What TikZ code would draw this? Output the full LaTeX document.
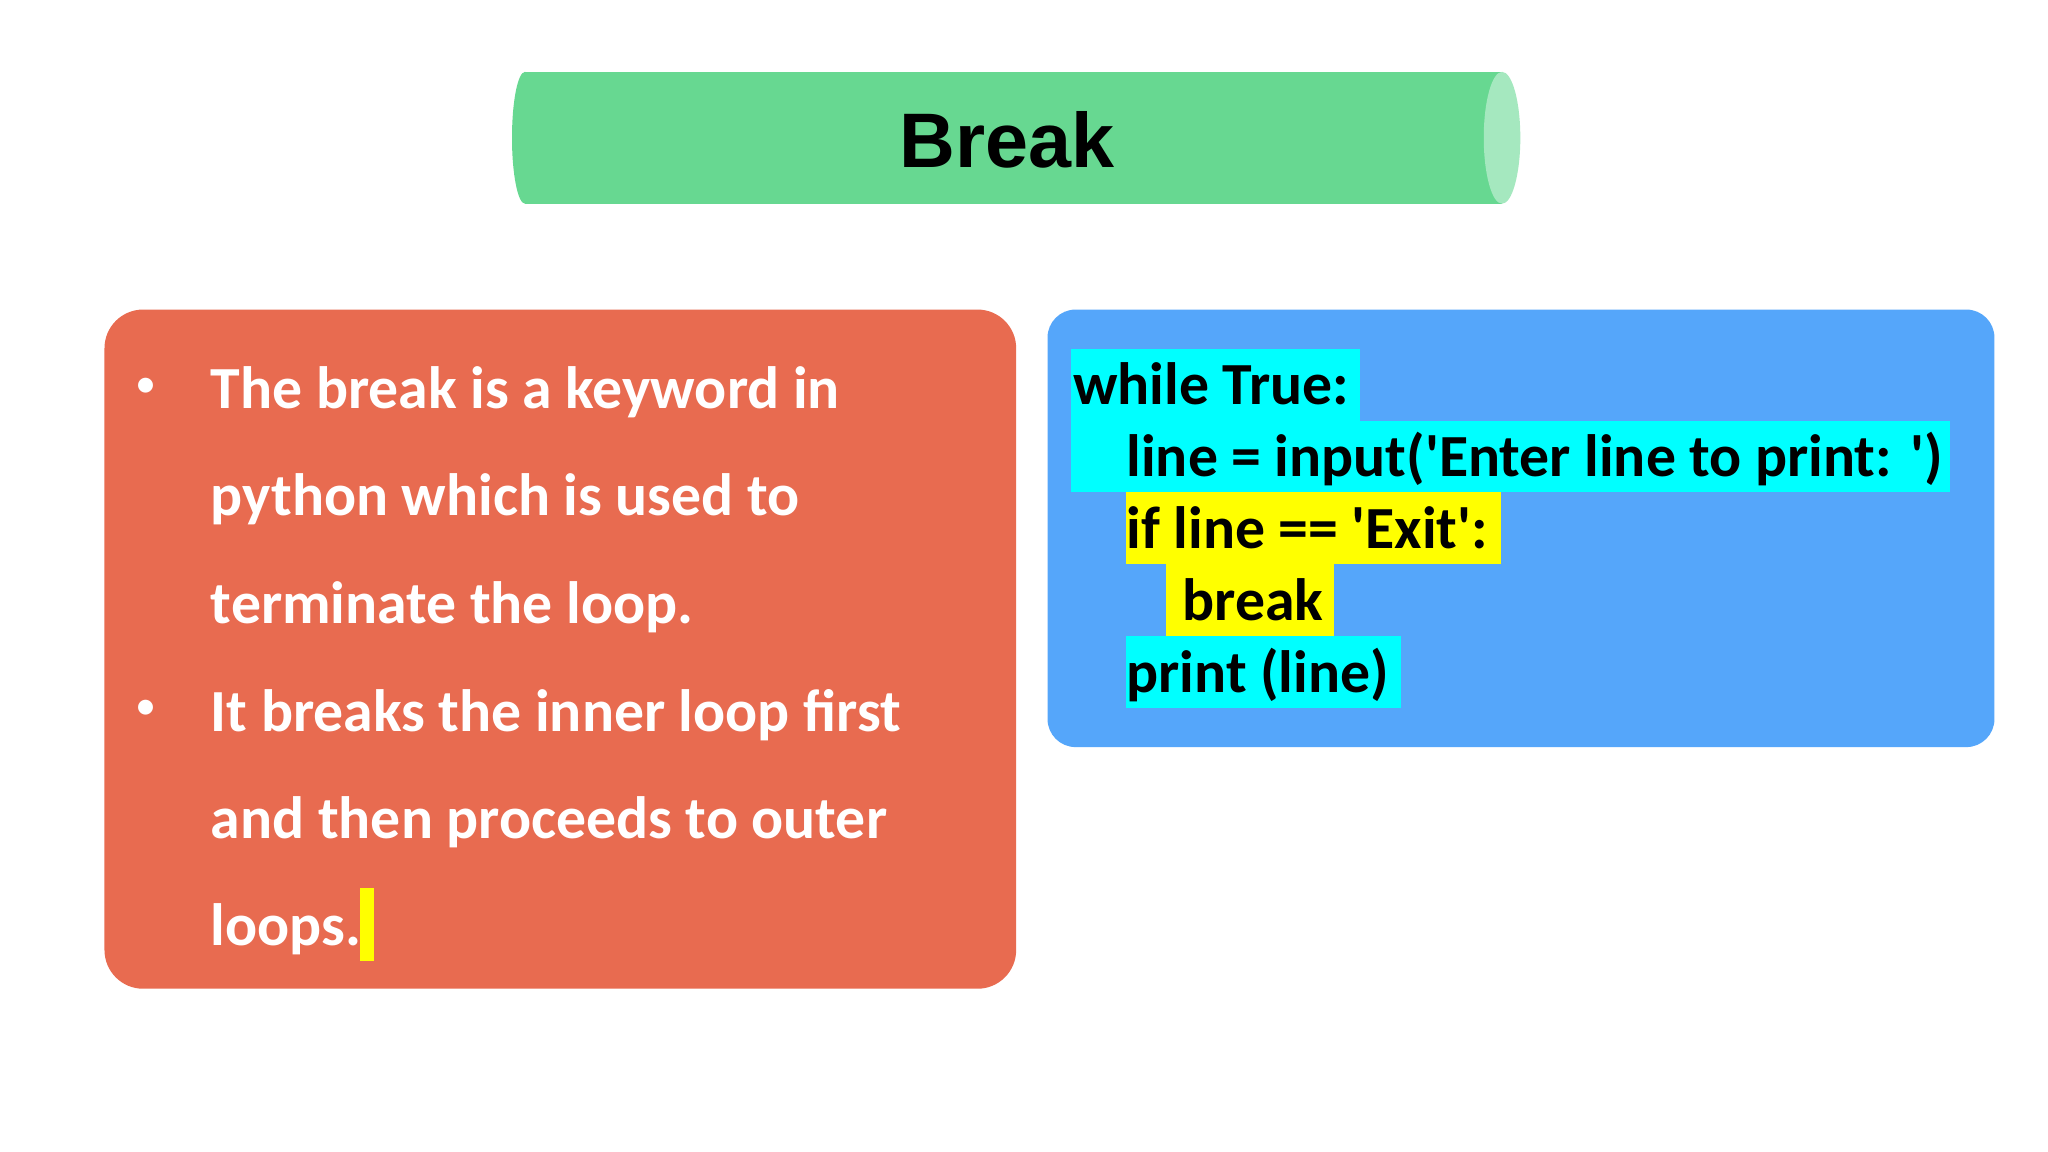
\documentclass[tikz,border=0pt]{standalone}
\usepackage{fontspec}
\setmainfont{Carlito}
\newfontfamily\codefont{Carlito}
\newfontfamily\titlefont{Liberation Sans}
\definecolor{cgreen}{HTML}{67D891}
\definecolor{clight}{HTML}{A5E8BF}
\definecolor{cred}{HTML}{E86B50}
\definecolor{cblue}{HTML}{55A6FA}
\definecolor{ccyan}{HTML}{00FFFF}
\definecolor{cyel}{HTML}{FFFF00}
\tikzset{
 bodytxt/.style={anchor=base west,inner sep=0pt,text=white,font=\fontsize{17}{20}\selectfont\bfseries},
 bullettxt/.style={anchor=base west,inner sep=0pt,text=white,font=\fontsize{12}{14}\selectfont},
 codetxt/.style={anchor=base west,inner sep=0pt,text=black,font=\codefont\fontsize{17}{20}\selectfont\bfseries}
}
\begin{document}
\begin{tikzpicture}[x=0.01306cm,y=-0.01306cm]
\useasboundingbox[fill=white] (0,0) rectangle (1568,882);
% cylinder
\fill[cgreen] (402,105.5) ellipse[x radius=10,y radius=50.5];
\fill[cgreen] (402,55) rectangle (1150,156);
\fill[clight] (1150,105.5) ellipse[x radius=14,y radius=50.5];
\node[font=\titlefont\fontsize{22}{26}\selectfont\bfseries,inner sep=0pt] (title) at (771,107) {Break};
% red box
\fill[cred,rounded corners=11pt] (80,237) rectangle (778,757);
\foreach \y/\t [count=\i] in {313/The break is a keyword in,395/python which is used to,477/terminate the loop.,560/It breaks the inner loop first,642/and then proceeds to outer,724/loops.}{
  \node[bodytxt] (t\i) at (161,\y) {\t};
}
\node[bullettxt] (b1) at (103,304) {\textbullet};
\node[bullettxt] (b2) at (103,551) {\textbullet};
\fill[cyel] (276,680) rectangle (286,736);
% blue box
\fill[cblue,rounded corners=8pt] (802,237) rectangle (1527,572);
\fill[ccyan] (820,267) rectangle (1041,322);
\fill[ccyan] (820,322) rectangle (1493,377);
\fill[cyel] (862,377) rectangle (1149,432);
\fill[cyel] (893,432) rectangle (1021,487);
\fill[ccyan] (862,487) rectangle (1073,542);
\node[codetxt] (c1) at (821,310) {while True:};
\node[codetxt] (c2) at (862,365) {line = input('Enter line to print: ')};
\node[codetxt] (c3) at (862,420) {if line == 'Exit':};
\node[codetxt] (c4) at (905,475) {break};
\node[codetxt] (c5) at (862,530) {print (line)};
\end{tikzpicture}
\end{document}
